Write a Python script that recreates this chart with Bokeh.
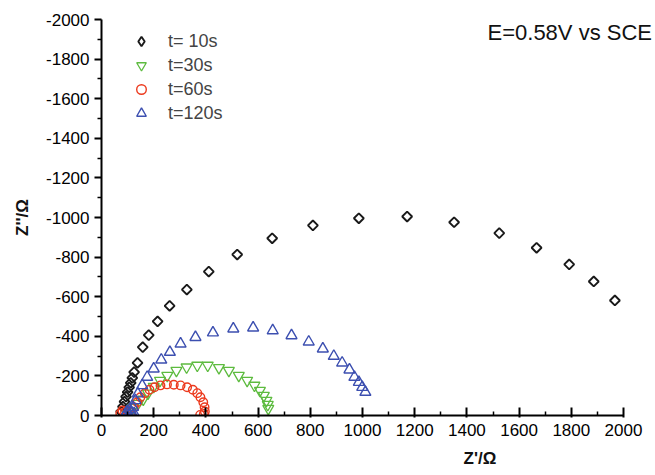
from bokeh.plotting import figure
from bokeh.models import (Range1d, FixedTicker, Legend, LegendItem, Label, Title,
                          PrintfTickFormatter, ColumnDataSource)
from bokeh.embed import file_html
from bokeh.resources import INLINE

# ---- data (Z' in ohm, Z'' in ohm) ----
t10_x = [75, 82, 88, 94, 100, 106, 112, 118, 125, 138, 158, 181, 215, 261, 327, 411,
         520, 654, 810, 986, 1171, 1351, 1524, 1667, 1792, 1886, 1967]
t10_y = [-20, -45, -70, -95, -118, -142, -165, -190, -219, -266, -345, -406, -475, -554,
         -636, -727, -813, -895, -960, -996, -1005, -976, -921, -847, -763, -677, -581]

t30_x = [100, 110, 122, 140, 160, 178, 200, 224, 252, 287, 326, 367, 407, 450, 488, 526,
         558, 586, 607, 622, 632, 637, 639]
t30_y = [-8, -20, -40, -60, -82, -112, -146, -177, -202, -227, -244, -253, -253, -241,
         -227, -202, -177, -152, -126, -101, -76, -55, -35]

t60_x = [72, 80, 90, 100, 112, 124, 137, 149, 166, 184, 203, 226, 251, 277, 303, 328,
         350, 367, 379, 390, 395, 396, 392, 378]
t60_y = [-10, -25, -18, -8, -17, -42, -67, -92, -113, -130, -143, -152, -157, -155,
         -152, -143, -130, -113, -92, -67, -42, -20, -8, -3]

t120_x = [92, 98, 105, 108, 112, 115, 121, 125, 130, 139, 156, 175, 200, 229, 262, 303,
          360, 427, 505, 581, 656, 728, 794, 848, 890, 922, 950, 969, 986, 999, 1011]
t120_y = [-8, -20, -5, -30, -17, -15, -42, -10, -76, -110, -152, -194, -236, -281, -320,
          -362, -395, -418, -438, -443, -429, -404, -372, -337, -300, -266, -231, -194,
          -168, -143, -118]

series_labels = ["t= 10s", "t=30s", "t=60s", "t=120s"]
x_ticks = list(range(0, 2001, 200))
y_ticks = list(range(-2000, 1, 200))

FONT = "Liberation Sans"

p = figure(width=655, height=475, output_backend="svg", toolbar_location=None,
           x_range=Range1d(0, 2122.6), y_range=Range1d(0, -2000),
           min_border_left=101, min_border_right=0, min_border_top=19,
           min_border_bottom=60)
p.outline_line_color = None
p.xgrid.visible = False
p.ygrid.visible = False
p.background_fill_color = "white"
# a range used only by the legend-swatch renderer (its points fall outside the frame)
p.extra_x_ranges = {"legend_only": Range1d(-20000, -19000)}

src10 = ColumnDataSource(dict(x=t10_x, y=t10_y))
r1 = p.scatter("x", "y", source=src10, marker="square", angle=0.785398, size=7,
               fill_alpha=0, line_color="#1a1a1a", line_width=1.9)
r1_leg = p.scatter("x", "y", source=src10, x_range_name="legend_only",
                   marker="diamond", size=10, fill_alpha=0,
                   line_color="#1a1a1a", line_width=1.9)
r2 = p.scatter(t30_x, t30_y, marker="inverted_triangle", size=11, fill_alpha=0,
               line_color="#5dbb3f", line_width=1.3)
r3 = p.scatter(t60_x, t60_y, marker="circle", size=8.5, fill_alpha=0,
               line_color="#ec3a1e", line_width=1.4)
r4 = p.scatter(t120_x, t120_y, marker="triangle", size=11, fill_alpha=0,
               line_color="#3c4fb0", line_width=1.4)

for ax in (p.xaxis[0], p.yaxis[0]):
    ax.axis_line_width = 2
    ax.axis_line_color = "black"
    ax.major_tick_line_width = 2
    ax.minor_tick_line_width = 1.5
    ax.major_tick_line_color = "black"
    ax.minor_tick_line_color = "black"
    ax.major_label_text_font = FONT
    ax.major_label_text_font_size = "17px"
    ax.major_label_text_color = "black"
    ax.formatter = PrintfTickFormatter(format="%d")

p.xaxis[0].bounds = (0, 2000)
p.xaxis[0].ticker = FixedTicker(ticks=x_ticks, minor_ticks=list(range(100, 2000, 200)))
p.yaxis[0].ticker = FixedTicker(ticks=y_ticks, minor_ticks=list(range(-1900, 0, 200)))
p.xaxis[0].major_tick_in = 8
p.xaxis[0].major_tick_out = 2
p.xaxis[0].minor_tick_in = 4
p.xaxis[0].minor_tick_out = 0
p.xaxis[0].major_label_standoff = 6
p.yaxis[0].major_tick_in = 0
p.yaxis[0].major_tick_out = 7
p.yaxis[0].minor_tick_in = 0
p.yaxis[0].minor_tick_out = 4
p.yaxis[0].major_label_standoff = 5
p.yaxis[0].axis_label = "Z''/Ω"
p.yaxis[0].axis_label_text_font = FONT
p.yaxis[0].axis_label_text_font_size = "17px"
p.yaxis[0].axis_label_text_font_style = "bold"
p.yaxis[0].axis_label_text_color = "#111111"
p.yaxis[0].axis_label_standoff = 11

legend = Legend(items=[LegendItem(label=series_labels[0], renderers=[r1_leg]),
                       LegendItem(label=series_labels[1], renderers=[r2]),
                       LegendItem(label=series_labels[2], renderers=[r3]),
                       LegendItem(label=series_labels[3], renderers=[r4])],
                location=(28, 290), border_line_color=None, background_fill_alpha=0,
                label_text_font=FONT, label_text_font_size="18px",
                glyph_width=24, glyph_height=24, label_height=20,
                spacing=-1, padding=5, margin=0, label_standoff=15)
p.add_layout(legend)

p.add_layout(Label(x=1479, y=-1934, text="E=0.58V vs SCE", text_font=FONT,
                   text_font_size="22px", text_baseline="middle", text_align="left",
                   text_color="#111111"))

xlab = Title(text="Z'/Ω", align="left", offset=362, text_font=FONT,
             text_font_size="17px", text_font_style="bold", text_color="#111111",
             text_line_height=0.8, standoff=16)
p.add_layout(xlab, "below")

open("out.html", "w").write(file_html(p, INLINE))
